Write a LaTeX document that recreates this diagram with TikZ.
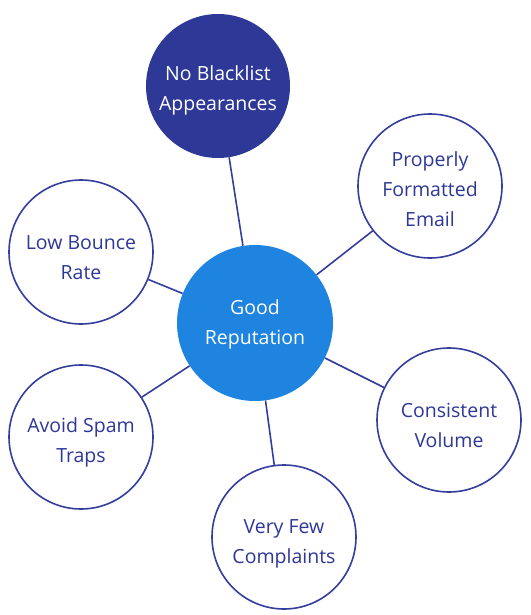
\documentclass[tikz,border=0pt]{standalone}
\usepackage{fontspec}
\setmainfont{Open Sans}
\definecolor{darkblue}{RGB}{46,56,150}
\definecolor{lineblue}{RGB}{52,62,158}
\definecolor{midblue}{RGB}{30,132,224}
\begin{document}
\begin{tikzpicture}[x=1pt,y=-1pt,
  bubble/.style={circle,draw=lineblue,line width=1.6pt,fill=white,minimum size=144pt,inner sep=0pt},
  hub/.style={circle,fill=midblue,minimum size=156pt,inner sep=0pt},
  top/.style={circle,fill=darkblue,minimum size=144pt,inner sep=0pt},
  lbl/.style={align=center,inner sep=0pt,text=darkblue,font=\fontsize{19.5}{30}\selectfont},
  wlbl/.style={lbl,text=white},
  link/.style={draw=lineblue,line width=1.6pt}]
\useasboundingbox (0,0) rectangle (530,615);
\node[hub] (c) at (255,323) {};
\node[top] (nb) at (218,86) {};
\node[bubble] (pf) at (430,186) {};
\node[bubble] (lb) at (81,252) {};
\node[bubble] (cv) at (449,420) {};
\node[bubble] (as) at (81,437) {};
\node[bubble] (vf) at (284,537) {};
\draw[link] (c) -- (nb);
\draw[link] (c) -- (pf);
\draw[link] (c) -- (lb);
\draw[link] (c) -- (cv);
\draw[link] (c) -- (as);
\draw[link] (c) -- (vf);
\node[wlbl] (tc) at ([yshift=-1pt]c.center) {Good\\Reputation};
\node[wlbl] (tnb) at ([yshift=-4pt]nb.center) {No Blacklist\\Appearances};
\node[lbl] (tpf) at ([yshift=-3pt]pf.center) {Properly\\Formatted\\Email};
\node[lbl] (tlb) at ([yshift=-6pt]lb.center) {Low Bounce\\Rate};
\node[lbl] (tcv) at ([yshift=-5pt]cv.center) {Consistent\\Volume};
\node[lbl] (tas) at ([yshift=-5pt]as.center) {Avoid Spam\\Traps};
\node[lbl] (tvf) at ([yshift=-7pt]vf.center) {Very Few\\Complaints};
\end{tikzpicture}
\end{document}
